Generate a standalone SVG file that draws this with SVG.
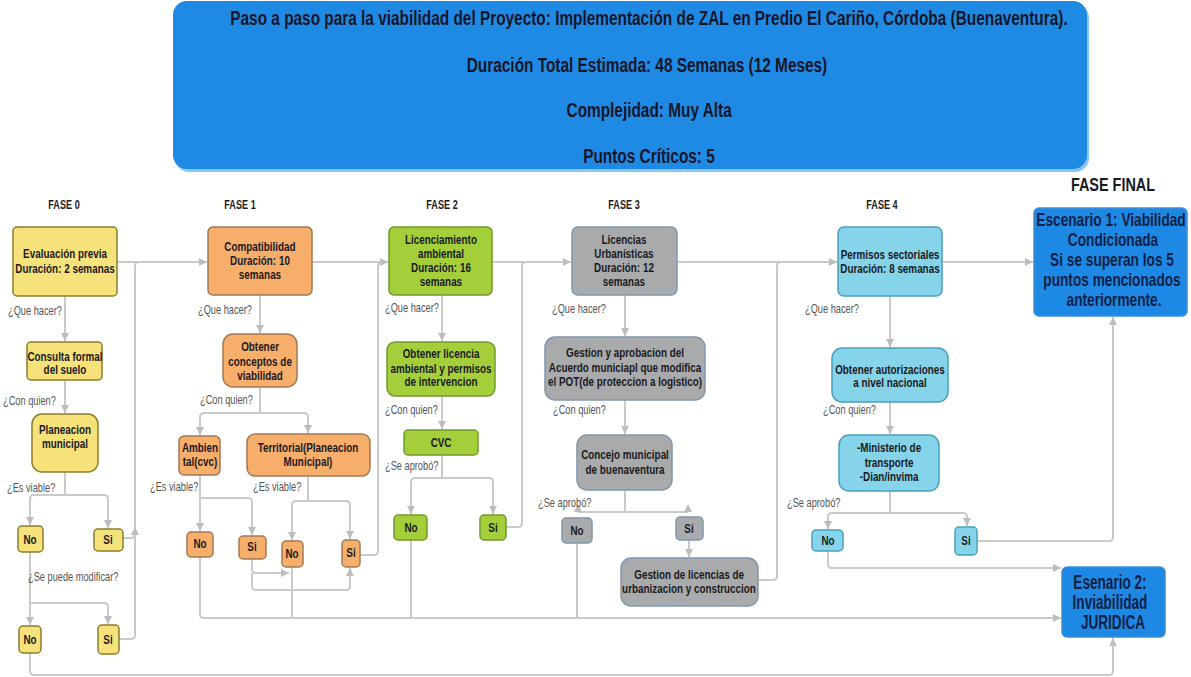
<svg xmlns="http://www.w3.org/2000/svg" width="1191" height="677" viewBox="0 0 1191 677">
  <defs>
    <marker id="arr" viewBox="0 0 8 8" refX="8" refY="4" markerWidth="8" markerHeight="8" markerUnits="userSpaceOnUse" orient="auto">
      <path d="M0,0 L8,4 L0,8 z" fill="#bdbdbd"/>
    </marker>
    <style>
      text { font-family: "Liberation Sans", Arial, sans-serif; }
      .t { font-weight: bold; fill: #1a1a22; text-anchor: middle; transform-box: fill-box; transform-origin: 50% 50%; transform: scaleX(0.76); }
      .n { font-size: 13px; }
      .ph { font-size: 12px; }
      .h { font-size: 20px; fill: #16162a; transform: scaleX(0.77); }
      .big { font-size: 18px; fill: #0f1f45; }
      .big2 { font-size: 20px; fill: #0f1f45; transform: scaleX(0.68); }
      .q { font-size: 12.5px; fill: #555; transform-box: fill-box; transform-origin: 0% 50%; transform: scaleX(0.74); }
      .c { fill: none; stroke: #cacaca; stroke-width: 2; stroke-linejoin: round; }
      .a { marker-end: url(#arr); }
      .y { fill: #f6e27a; stroke: #8b7d2c; stroke-width: 1.5; }
      .o { fill: #f7ae6b; stroke: #a07a55; stroke-width: 1.5; }
      .g { fill: #a4cf3b; stroke: #6f9a2e; stroke-width: 1.5; }
      .s { fill: #a9aaab; stroke: #7f98ae; stroke-width: 1.5; }
      .cy { fill: #86d4ea; stroke: #4a9fc0; stroke-width: 1.5; }
      .b { fill: #1e88e5; stroke: #3b8fd8; stroke-width: 1.5; }
    </style>
  </defs>
  <rect width="1191" height="677" fill="#ffffff"/>

  <!-- title banner -->
  <g id="header">
    <rect x="175" y="4" width="914" height="168" rx="14" fill="#8cc4f0"/>
    <rect x="173" y="1" width="914" height="168" rx="14" fill="#1f8ae3"/>
    <text class="t h" x="649" y="25">Paso a paso para la viabilidad del  Proyecto: Implementación de ZAL en Predio El Cariño, Córdoba (Buenaventura).</text>
    <text class="t h" x="647" y="72">Duración Total Estimada: 48 Semanas (12 Meses)</text>
    <text class="t h" x="649" y="117">Complejidad: Muy Alta</text>
    <text class="t h" x="649" y="163">Puntos Críticos: 5</text>
  </g>

  <!-- phase labels -->
  <g id="phase-labels">
    <text class="t ph" x="64" y="209">FASE 0</text>
    <text class="t ph" x="240" y="209">FASE 1</text>
    <text class="t ph" x="442" y="209">FASE 2</text>
    <text class="t ph" x="624" y="209">FASE 3</text>
    <text class="t ph" x="882" y="209">FASE 4</text>
    <text class="t" style="font-size:19px" x="1113" y="191">FASE FINAL</text>
  </g>

  <!-- connectors -->
  <g id="connectors">
    <!-- fase 0 -->
    <path class="c a" d="M65,296 V341"/>
    <path class="c a" d="M65,380 V413"/>
    <path class="c a" d="M65,472 V495 H34 Q30,495 30,499 V525"/>
    <path class="c a" d="M65,495 H104 Q108,495 108,499 V528"/>
    <path class="c a" d="M30,552 V625"/>
    <path class="c a" d="M30,603 H104 Q108,603 108,607 V624"/>
    <path class="c a" d="M117,262 H207"/>
    <path class="c" d="M119,639 H131 Q135,639 135,635 V266 Q135,262 139,262"/>
    <path class="c a" d="M123,538 H131 Q135,538 135,534 V527"/>
    <path class="c a" d="M30,653 V671 Q30,675 34,675 H1109 Q1113,675 1113,671 V638"/>
    <!-- fase 1 -->
    <path class="c a" d="M260,295 V333"/>
    <path class="c a" d="M260,387 V413 H204 Q200,413 200,417 V435"/>
    <path class="c a" d="M260,413 H304 Q308,413 308,417 V433"/>
    <path class="c a" d="M200,475 V531"/>
    <path class="c a" d="M200,498 H248 Q252,498 252,502 V535"/>
    <path class="c a" d="M308,476 V501 H296 Q292,501 292,505 V540"/>
    <path class="c a" d="M308,501 H346 Q350,501 350,505 V539"/>
    <path class="c a" d="M252,559 V569 Q252,573 256,573 H289"/>
    <path class="c a" d="M252,573 V586 Q252,590 256,590 H346 Q350,590 350,586 V568"/>
    <path class="c a" d="M312,262 H388"/>
    <path class="c" d="M360,555 H374 Q378,555 378,551 V266 Q378,262 382,262"/>
    <path class="c a" d="M200,557 V614 Q200,618 204,618 H1061"/>
    <path class="c" d="M292,567 V618"/>
    <!-- fase 2 -->
    <path class="c a" d="M442,295 V341"/>
    <path class="c a" d="M442,396 V429"/>
    <path class="c a" d="M442,455 V478 H415 Q411,478 411,482 V514"/>
    <path class="c a" d="M442,478 H489 Q493,478 493,482 V514"/>
    <path class="c" d="M411,540 V618"/>
    <path class="c a" d="M492,262 H571"/>
    <path class="c" d="M506,527 H518 Q522,527 522,523 V266 Q522,262 526,262"/>
    <!-- fase 3 -->
    <path class="c a" d="M625,295 V336"/>
    <path class="c a" d="M625,400 V434"/>
    <path class="c" d="M625,490 V512 M578,512 H688"/>
    <path d="M574,512 L582,512 L578,504 z M684,512 L692,512 L688,504 z" fill="#bdbdbd"/>
    <path class="c" d="M577,543 V618"/>
    <path class="c a" d="M689,540 V557"/>
    <path class="c" d="M758,580 H773 Q777,580 777,576 V266 Q777,262 781,262"/>
    <path class="c a" d="M677,262 H837"/>
    <!-- fase 4 -->
    <path class="c a" d="M890,296 V347"/>
    <path class="c a" d="M890,402 V434"/>
    <path class="c a" d="M890,491 V513 H832 Q828,513 828,517 V529"/>
    <path class="c a" d="M890,513 H963 Q967,513 967,517 V526"/>
    <path class="c a" d="M977,541 H1109 Q1113,541 1113,537 V317"/>
    <path class="c a" d="M828,551 V564 Q828,568 832,568 H1061"/>
    <path class="c a" d="M942,262 H1033"/>
  </g>

  <!-- question labels -->
  <g id="questions">
    <text class="q" x="8" y="315">¿Que hacer?</text>
    <text class="q" x="3" y="405">¿Con quien?</text>
    <text class="q" x="7" y="492">¿Es viable?</text>
    <text class="q" x="28" y="581">¿Se puede modificar?</text>
    <text class="q" x="198" y="314">¿Que hacer?</text>
    <text class="q" x="200" y="404">¿Con quien?</text>
    <text class="q" x="150" y="491">¿Es viable?</text>
    <text class="q" x="253" y="491">¿Es viable?</text>
    <text class="q" x="385" y="312">¿Que hacer?</text>
    <text class="q" x="385" y="414">¿Con quien?</text>
    <text class="q" x="385" y="470">¿Se aprobó?</text>
    <text class="q" x="552" y="313">¿Que hacer?</text>
    <text class="q" x="553" y="414">¿Con quien?</text>
    <text class="q" x="538" y="507">¿Se aprobó?</text>
    <text class="q" x="805" y="313">¿Que hacer?</text>
    <text class="q" x="823" y="414">¿Con quien?</text>
    <text class="q" x="787" y="507">¿Se aprobó?</text>
  </g>

  <!-- fase 0 nodes -->
  <g id="evaluacion"><rect class="y" x="13" y="227" width="104" height="69" rx="4"/>
    <text class="t n" x="65" y="258">Evaluación previa</text><text class="t n" x="65" y="273">Duración: 2 semanas</text></g>
  <g id="consulta"><rect class="y" x="27" y="342" width="75" height="38" rx="4"/>
    <text class="t n" x="65" y="361">Consulta formal</text><text class="t n" x="65" y="374">del suelo</text></g>
  <g id="planeacion"><rect class="y" x="32" y="414" width="66" height="58" rx="10"/>
    <text class="t n" x="65" y="434">Planeacion</text><text class="t n" x="65" y="448">municipal</text></g>
  <g id="f0-no1"><rect class="y" x="18" y="526" width="25" height="26" rx="4"/><text class="t n" x="30" y="544">No</text></g>
  <g id="f0-si1"><rect class="y" x="94" y="529" width="29" height="22" rx="4"/><text class="t n" x="108" y="544">Si</text></g>
  <g id="f0-no2"><rect class="y" x="19" y="626" width="22" height="27" rx="4"/><text class="t n" x="30" y="644">No</text></g>
  <g id="f0-si2"><rect class="y" x="98" y="625" width="21" height="29" rx="4"/><text class="t n" x="108" y="644">Si</text></g>

  <!-- fase 1 nodes -->
  <g id="compatibilidad"><rect class="o" x="208" y="227" width="104" height="68" rx="5"/>
    <text class="t n" x="260" y="251">Compatibilidad</text><text class="t n" x="260" y="265">Duración: 10</text><text class="t n" x="260" y="279">semanas</text></g>
  <g id="conceptos"><rect class="o" x="223" y="334" width="74" height="53" rx="10"/>
    <text class="t n" x="260" y="351">Obtener</text><text class="t n" x="260" y="366">conceptos de</text><text class="t n" x="260" y="380">viabilidad</text></g>
  <g id="ambiental"><rect class="o" x="179" y="436" width="41" height="39" rx="5"/>
    <text class="t n" x="200" y="452">Ambien</text><text class="t n" x="200" y="466">tal(cvc)</text></g>
  <g id="territorial"><rect class="o" x="247" y="434" width="123" height="42" rx="8"/>
    <text class="t n" x="308" y="452">Territorial(Planeacion</text><text class="t n" x="308" y="466">Municipal)</text></g>
  <g id="f1-no1"><rect class="o" x="187" y="532" width="26" height="25" rx="4"/><text class="t n" x="200" y="548">No</text></g>
  <g id="f1-si1"><rect class="o" x="239" y="536" width="27" height="23" rx="4"/><text class="t n" x="252" y="551">Si</text></g>
  <g id="f1-no2"><rect class="o" x="282" y="541" width="21" height="26" rx="4"/><text class="t n" x="292" y="558">No</text></g>
  <g id="f1-si2"><rect class="o" x="342" y="540" width="18" height="27" rx="4"/><text class="t n" x="351" y="557">Si</text></g>

  <!-- fase 2 nodes -->
  <g id="licenciamiento"><rect class="g" x="389" y="227" width="103" height="68" rx="5"/>
    <text class="t n" x="441" y="244">Licenciamiento</text><text class="t n" x="441" y="258">ambiental</text><text class="t n" x="441" y="272">Duración: 16</text><text class="t n" x="441" y="286">semanas</text></g>
  <g id="licencia-ambiental"><rect class="g" x="387" y="342" width="108" height="54" rx="8"/>
    <text class="t n" x="441" y="358">Obtener licencia</text><text class="t n" x="441" y="373">ambiental y permisos</text><text class="t n" x="441" y="386">de intervencion</text></g>
  <g id="cvc"><rect class="g" x="404" y="430" width="74" height="25" rx="4"/><text class="t n" x="441" y="447">CVC</text></g>
  <g id="f2-no"><rect class="g" x="394" y="515" width="33" height="25" rx="4"/><text class="t n" x="411" y="532">No</text></g>
  <g id="f2-si"><rect class="g" x="480" y="515" width="26" height="25" rx="4"/><text class="t n" x="493" y="532">Si</text></g>

  <!-- fase 3 nodes -->
  <g id="licencias"><rect class="s" x="572" y="227" width="105" height="68" rx="6"/>
    <text class="t n" x="624" y="244">Licencias</text><text class="t n" x="624" y="258">Urbanísticas</text><text class="t n" x="624" y="272">Duración: 12</text><text class="t n" x="624" y="286">semanas</text></g>
  <g id="acuerdo"><rect class="s" x="545" y="337" width="160" height="63" rx="10"/>
    <text class="t n" x="625" y="357">Gestion y aprobacion del</text><text class="t n" x="625" y="372">Acuerdo municiapl que modifica</text><text class="t n" x="625" y="386">el POT(de proteccion a logistico)</text></g>
  <g id="concejo"><rect class="s" x="577" y="435" width="95" height="55" rx="10"/>
    <text class="t n" x="625" y="459">Concejo municipal</text><text class="t n" x="625" y="474">de buenaventura</text></g>
  <g id="f3-no"><rect class="s" x="562" y="518" width="30" height="25" rx="4"/><text class="t n" x="577" y="535">No</text></g>
  <g id="f3-si"><rect class="s" x="676" y="517" width="27" height="23" rx="4"/><text class="t n" x="689" y="533">Si</text></g>
  <g id="licencias-urb"><rect class="s" x="621" y="558" width="137" height="48" rx="10"/>
    <text class="t n" x="689" y="579">Gestion de licencias de</text><text class="t n" x="689" y="593">urbanizacion y construccion</text></g>

  <!-- fase 4 nodes -->
  <g id="permisos"><rect class="cy" x="838" y="227" width="104" height="69" rx="6"/>
    <text class="t n" x="890" y="259">Permisos sectoriales</text><text class="t n" x="890" y="273">Duración: 8 semanas</text></g>
  <g id="autorizaciones"><rect class="cy" x="832" y="348" width="116" height="54" rx="10"/>
    <text class="t n" x="890" y="374">Obtener autorizaciones</text><text class="t n" x="890" y="387">a nivel nacional</text></g>
  <g id="ministerio"><rect class="cy" x="839" y="435" width="100" height="56" rx="10"/>
    <text class="t n" x="889" y="452">-Ministerio de</text><text class="t n" x="889" y="467">transporte</text><text class="t n" x="889" y="481">-Dian/invima</text></g>
  <g id="f4-no"><rect class="cy" x="812" y="530" width="31" height="21" rx="4"/><text class="t n" x="828" y="545">No</text></g>
  <g id="f4-si"><rect class="cy" x="955" y="527" width="22" height="28" rx="4"/><text class="t n" x="966" y="545">Si</text></g>

  <!-- final scenarios -->
  <g id="escenario-1"><rect class="b" x="1034" y="208" width="153" height="108" rx="5"/>
    <text class="t big" x="1111" y="226">Escenario 1: Viabilidad</text>
    <text class="t big" x="1113" y="246">Condicionada</text>
    <text class="t big" x="1112" y="266">Si se superan los 5</text>
    <text class="t big" x="1112" y="286">puntos mencionados</text>
    <text class="t big" x="1114" y="306">anteriormente.</text></g>
  <g id="escenario-2"><rect class="b" x="1062" y="567" width="103" height="70" rx="5"/>
    <text class="t big2" x="1110" y="589">Esenario 2:</text>
    <text class="t big2" x="1110" y="609">Inviabilidad</text>
    <text class="t big2" x="1113" y="629">JURIDICA</text></g>
</svg>
